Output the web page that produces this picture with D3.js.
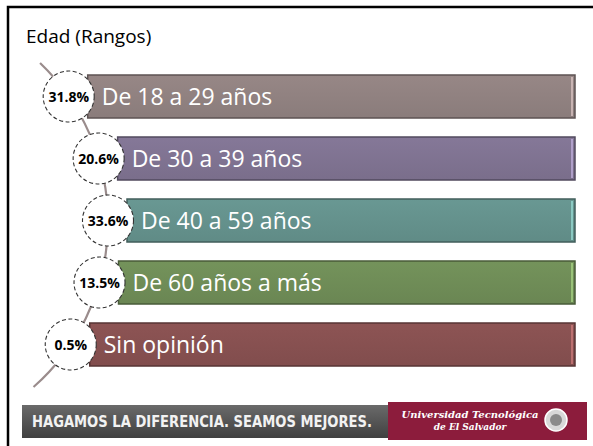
<!DOCTYPE html>
<meta charset="utf-8">
<script src="https://d3js.org/d3.v7.min.js"></script>
<style>
  body { margin: 0; background: #fff; }
</style>
<div id="my_dataviz"></div>
<script>

// data
var categories = ["De 18 a 29 años", "De 30 a 39 años", "De 40 a 59 años", "De 60 años a más", "Sin opinión"];
var percents = [31.8, 20.6, 33.6, 13.5, 0.5];
var barColors = ["#8f807f", "#7e7290", "#64908b", "#6e8b56", "#865050"];
var title = "Edad (Rangos)";
var slogan = "HAGAMOS LA DIFERENCIA. SEAMOS MEJORES.";

var W = 593, H = 446;

var svg = d3.select("#my_dataviz")
  .append("svg")
    .attr("width", W)
    .attr("height", H);

// frame
svg.append("path")
  .attr("d", "M8,446 L8,7 L593,7")
  .attr("fill", "none")
  .attr("stroke", "#000")
  .attr("stroke-width", 2.5);

svg.append("text")
  .attr("x", 26)
  .attr("y", 43)
  .style("font-family", "Open Sans")
  .style("font-size", "19px")
  .attr("fill", "#000")
  .text(title);

// rows
var y = d3.scaleBand()
  .domain(categories)
  .range([75, 366])
  .paddingInner(19 / 62)
  .paddingOuter(0);

// the circles sit on a large arc
var arcC = {x: -112, y: 222, r: 220};
function arcX(cy) { return arcC.x + Math.sqrt(arcC.r * arcC.r - (cy - arcC.y) * (cy - arcC.y)); }

var barRight = 575;

var rows = categories.map(function(c, i) {
  var cy = y(c) + y.bandwidth() / 2;
  return {cat: c, pct: percents[i], color: barColors[i], cy: cy, cx: arcX(cy)};
});

// bar gradient
var defs = svg.append("defs");
rows.forEach(function(d, i) {
  var g = defs.append("linearGradient")
    .attr("id", "grad" + i)
    .attr("x1", 0).attr("y1", 0).attr("x2", 0).attr("y2", 1);
  g.append("stop").attr("offset", "0%").attr("stop-color", d3.color(d.color).brighter(0.15));
  g.append("stop").attr("offset", "100%").attr("stop-color", d3.color(d.color).darker(0.1));
});

// connecting arc line
var lineTop = 63, lineBot = 387;
svg.append("path")
  .attr("d", "M" + arcX(lineTop) + "," + lineTop + " A" + arcC.r + "," + arcC.r + " 0 0 1 " + arcX(lineBot) + "," + lineBot)
  .attr("fill", "none")
  .attr("stroke", "#9a8c8c")
  .attr("stroke-width", 2.2);

var row = svg.selectAll(".row")
  .data(rows)
  .enter()
  .append("g")
    .attr("class", "row");

row.append("rect")
  .attr("x", function(d) { return d.cx + 19; })
  .attr("y", function(d) { return y(d.cat); })
  .attr("width", function(d) { return barRight - d.cx - 19; })
  .attr("height", y.bandwidth())
  .attr("fill", function(d, i) { return "url(#grad" + i + ")"; })
  .attr("stroke", function(d) { return d3.color(d.color).darker(1.2); })
  .attr("stroke-width", 1.5);

// light edge near the right end
row.append("line")
  .attr("x1", barRight - 3)
  .attr("x2", barRight - 3)
  .attr("y1", function(d) { return y(d.cat) + 2; })
  .attr("y2", function(d) { return y(d.cat) + y.bandwidth() - 2; })
  .attr("stroke", function(d) { return d3.color(d.color).brighter(1.2); })
  .attr("stroke-width", 1.5);

row.append("text")
  .attr("x", function(d) { return d.cx + 33; })
  .attr("y", function(d) { return d.cy + 8.5; })
  .style("font-family", "Open Sans")
  .style("font-size", "23px")
  .attr("fill", "#fff")
  .text(function(d) { return d.cat; });

row.append("circle")
  .attr("cx", function(d) { return d.cx; })
  .attr("cy", function(d) { return d.cy; })
  .attr("r", 25.5)
  .attr("fill", "#fff")
  .attr("stroke", "#333")
  .attr("stroke-width", 1.1)
  .attr("stroke-dasharray", "4,2.5");

row.append("text")
  .attr("x", function(d) { return d.cx; })
  .attr("y", function(d) { return d.cy + 5; })
  .attr("text-anchor", "middle")
  .style("font-family", "Open Sans")
  .style("font-weight", "bold")
  .style("font-size", "14px")
  .attr("fill", "#000")
  .text(function(d) { return d.pct.toFixed(1) + "%"; });

// footer banner
var bg = defs.append("linearGradient")
  .attr("id", "bannerGrad")
  .attr("x1", 0).attr("y1", 0).attr("x2", 0).attr("y2", 1);
bg.append("stop").attr("offset", "0%").attr("stop-color", "#6a6a6a");
bg.append("stop").attr("offset", "100%").attr("stop-color", "#404040");

svg.append("rect")
  .attr("x", 22).attr("y", 405)
  .attr("width", 368).attr("height", 33)
  .attr("fill", "url(#bannerGrad)");

svg.append("text")
  .attr("x", 32).attr("y", 427)
  .attr("textLength", 340)
  .attr("lengthAdjust", "spacingAndGlyphs")
  .style("font-family", "DejaVu Sans Condensed")
  .style("font-weight", "bold")
  .style("font-size", "15px")
  .attr("fill", "#f2f2f2")
  .text(slogan);

svg.append("rect")
  .attr("x", 388).attr("y", 402)
  .attr("width", 199).attr("height", 38)
  .attr("fill", "#8c1c3c");

svg.append("text")
  .attr("x", 470).attr("y", 418)
  .attr("text-anchor", "middle")
  .style("font-family", "DejaVu Serif")
  .style("font-style", "italic")
  .style("font-weight", "bold")
  .style("font-size", "10px")
  .attr("fill", "#fff")
  .text("Universidad Tecnológica");

svg.append("text")
  .attr("x", 470).attr("y", 430)
  .attr("text-anchor", "middle")
  .style("font-family", "DejaVu Serif")
  .style("font-style", "italic")
  .style("font-weight", "bold")
  .style("font-size", "9px")
  .attr("fill", "#fff")
  .text("de El Salvador");

// seal
svg.append("circle")
  .attr("cx", 556).attr("cy", 420).attr("r", 11)
  .attr("fill", "#d8d8d8")
  .attr("stroke", "#fff")
  .attr("stroke-width", 1.5);
svg.append("circle")
  .attr("cx", 556).attr("cy", 420).attr("r", 6)
  .attr("fill", "#8a8a8a");

</script>
